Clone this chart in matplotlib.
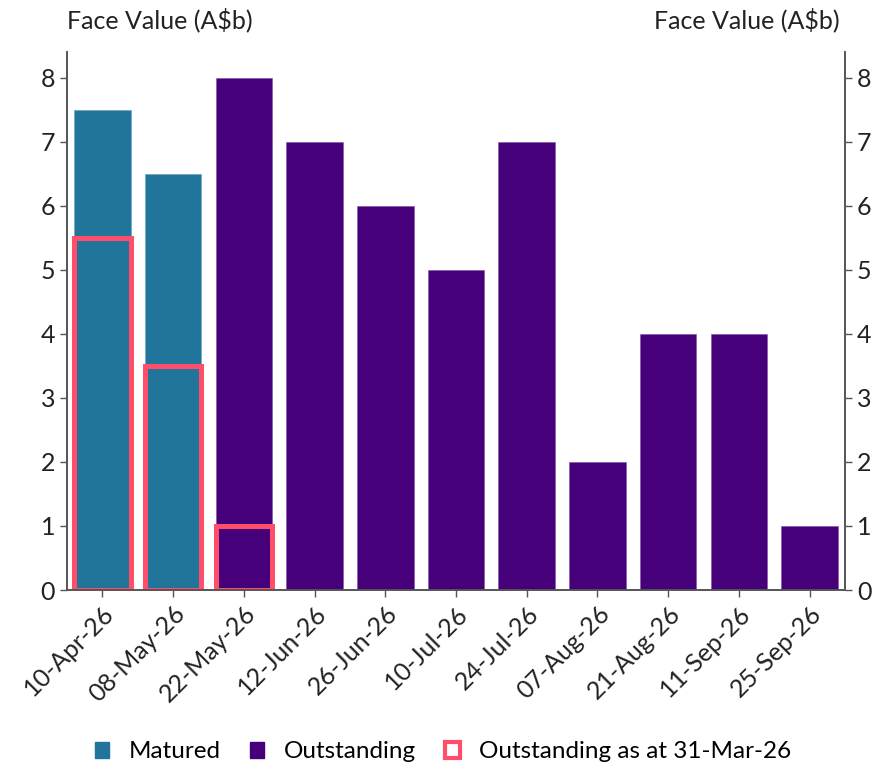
import numpy as np
import matplotlib.pyplot as plt
from matplotlib.patches import Patch

plt.rcParams['font.family'] = ['Lato', 'DejaVu Sans']

dates = ['10-Apr-26', '08-May-26', '22-May-26', '12-Jun-26', '26-Jun-26', '10-Jul-26',
         '24-Jul-26', '07-Aug-26', '21-Aug-26', '11-Sep-26', '25-Sep-26']
matured = [7.5, 6.5, 0, 0, 0, 0, 0, 0, 0, 0, 0]
outstanding = [0, 0, 8, 7, 6, 5, 7, 2, 4, 4, 1]
as_at = [5.5, 3.5, 1, 0, 0, 0, 0, 0, 0, 0, 0]

teal = '#21759b'
purple = '#45007a'
red = '#ff4d6a'
grey = '#555555'

fig = plt.figure(figsize=(8.87, 7.68), dpi=100)
ax = fig.add_axes([67/887, 1-590/768, 778/887, 538/768])
x = np.arange(len(dates))

ax.bar(x, matured, width=0.8, color=teal, edgecolor='#6aa9c8', linewidth=0.5)
ax.bar(x, outstanding, width=0.8, color=purple, edgecolor='#8a5cb0', linewidth=0.5)
h = [v if v > 0 else np.nan for v in as_at]
ax.bar(x, h, width=0.8, facecolor='none', edgecolor=red, linewidth=3.6)

ax.set_xlim(-0.5, len(dates) - 0.5)
ax.set_ylim(0, 8.4)
ax.set_yticks(range(0, 9))
ax.set_xticks(x)
ax.set_xticklabels(dates, rotation=45, ha='right', rotation_mode='anchor')

ax2 = ax.twinx()
ax2.set_ylim(ax.get_ylim())
ax2.set_yticks(range(0, 9))

for a in (ax, ax2):
    a.spines['top'].set_visible(False)
    for s in ('left', 'right', 'bottom'):
        a.spines[s].set_color(grey)
        a.spines[s].set_linewidth(1.2)
    a.tick_params(colors=grey, labelcolor='#222222', labelsize=18, length=5, width=1)

fig.text(67/887, 1-20/768, 'Face Value (A\\$b)', fontsize=18, color='#222222',
         ha='left', va='center')
fig.text(840/887, 1-20/768, 'Face Value (A\\$b)', fontsize=18, color='#222222',
         ha='right', va='center')

handles = [Patch(facecolor=teal, edgecolor=teal),
           Patch(facecolor=purple, edgecolor=purple),
           Patch(facecolor='white', edgecolor=red, linewidth=3)]
fig.legend(handles, ['Matured', 'Outstanding', 'Outstanding as at 31-Mar-26'],
           loc='center', bbox_to_anchor=(443/887, 1-752/768), ncol=3, frameon=False,
           fontsize=17.5, handlelength=0.6, handleheight=0.6, handletextpad=0.8,
           columnspacing=1.2)

fig.savefig('out.png', dpi=100)
